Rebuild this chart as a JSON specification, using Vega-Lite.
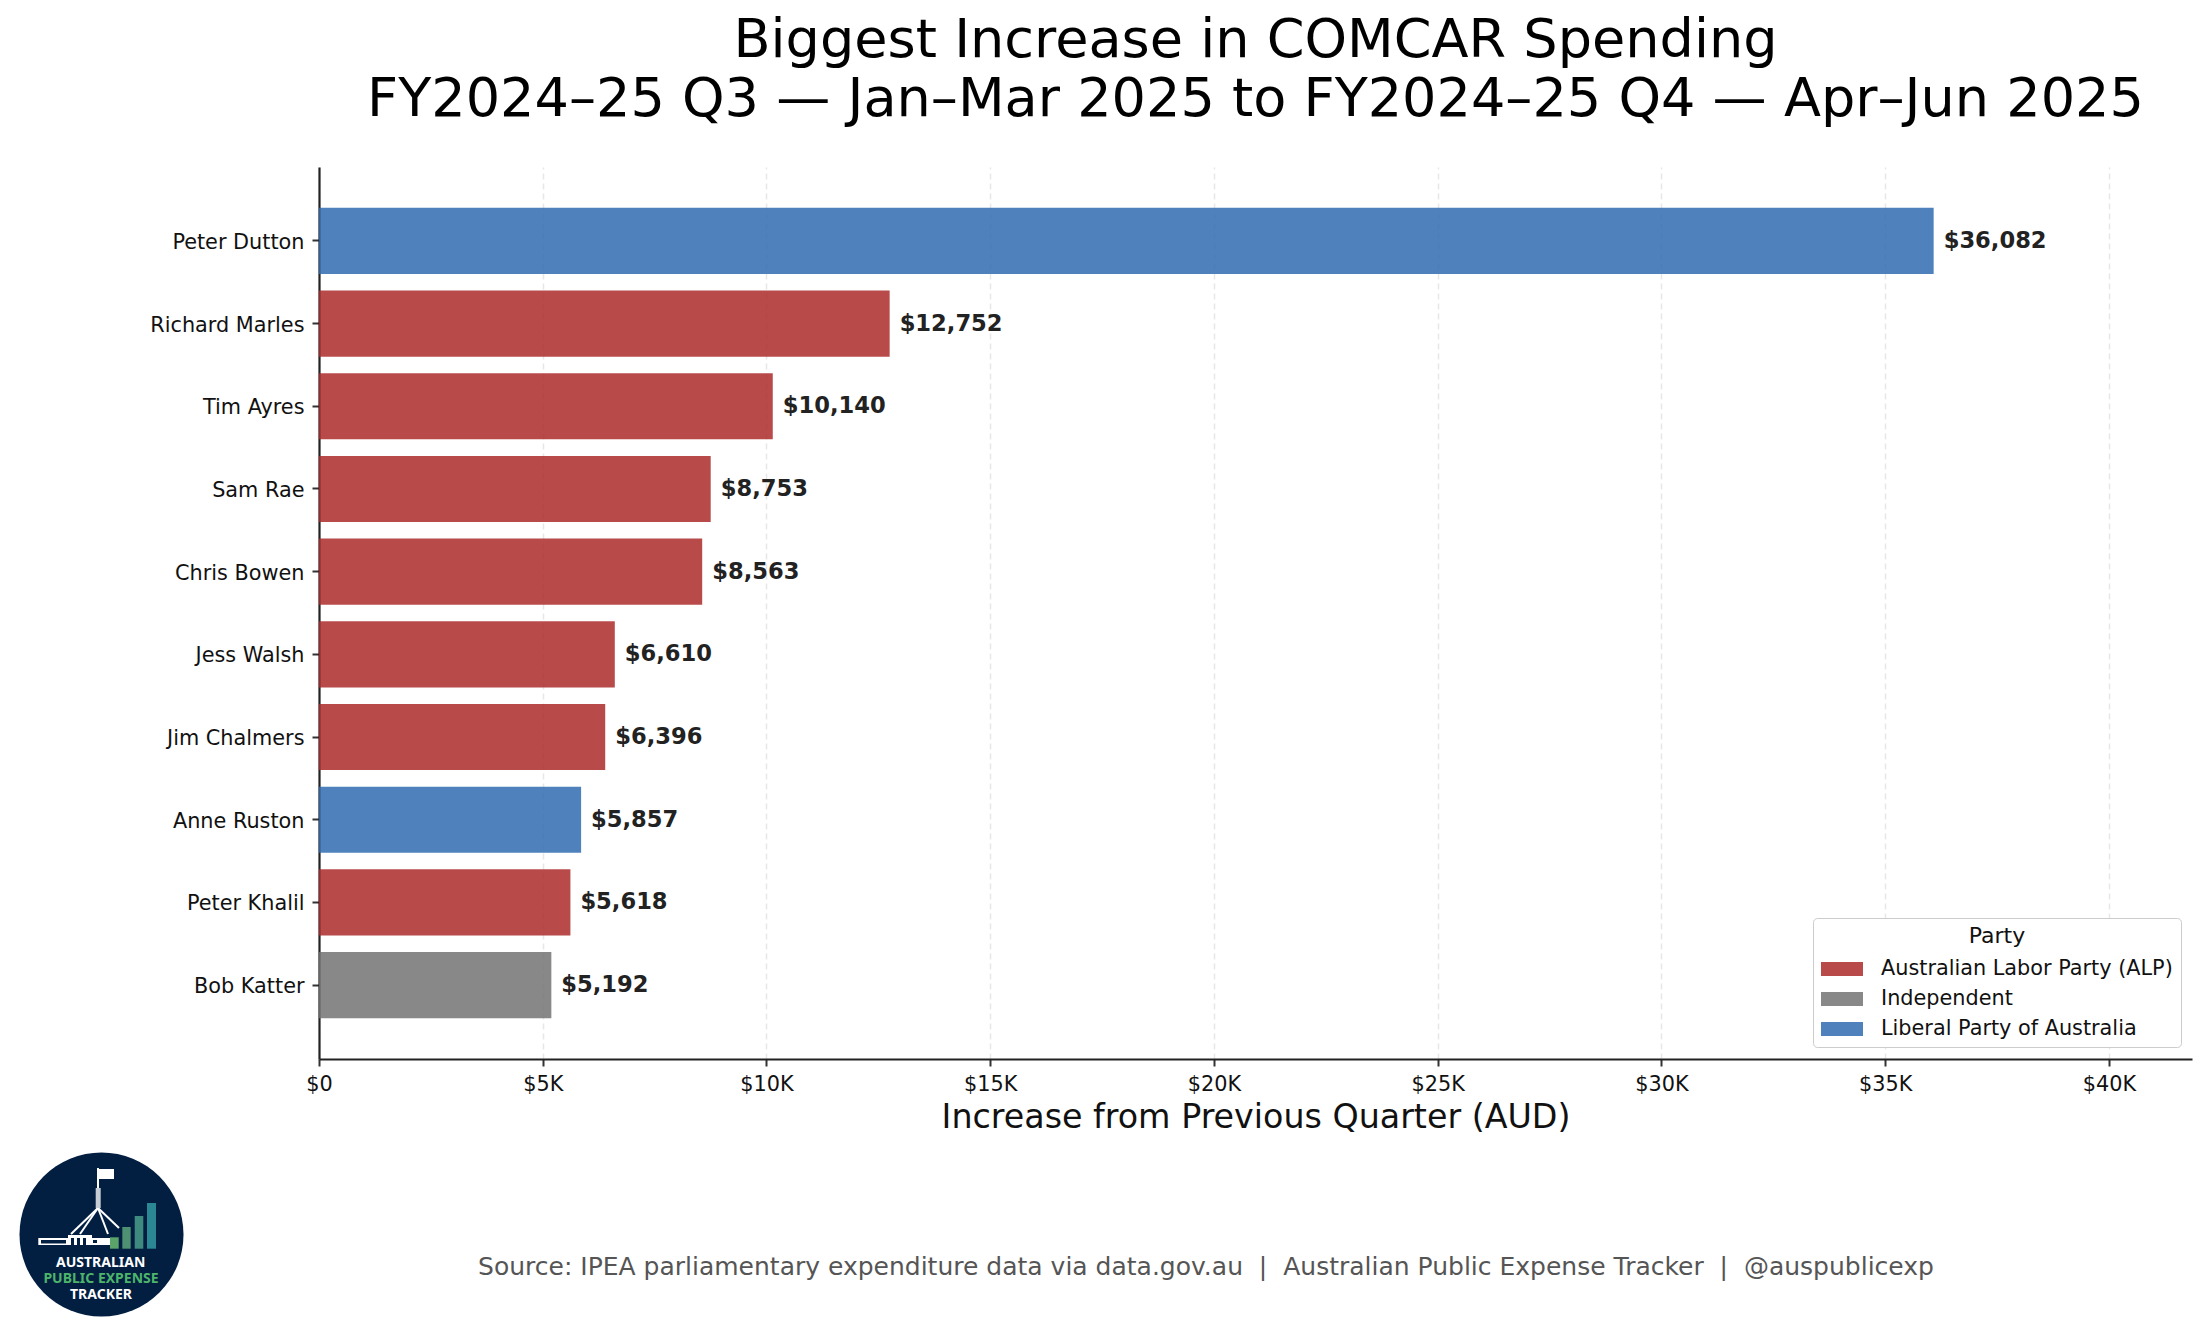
{
  "$schema": "https://vega.github.io/schema/vega-lite/v6.json",
  "autosize": {"type": "none"},
  "padding": {"left": 319, "top": 167, "right": 13, "bottom": 278},
  "width": 1873,
  "height": 892,
  "background": "white",
  "title": {
    "text": ["Biggest Increase in COMCAR Spending", "FY2024–25 Q3 — Jan–Mar 2025 to FY2024–25 Q4 — Apr–Jun 2025"],
    "font": "DejaVu Sans",
    "fontSize": 54.1,
    "fontWeight": "normal",
    "color": "black",
    "anchor": "middle",
    "lineHeight": 59,
    "offset": 40
  },
  "datasets": {
    "spend": [
      {"member": "Peter Dutton", "increase": 36082, "party": "Liberal Party of Australia"},
      {"member": "Richard Marles", "increase": 12752, "party": "Australian Labor Party (ALP)"},
      {"member": "Tim Ayres", "increase": 10140, "party": "Australian Labor Party (ALP)"},
      {"member": "Sam Rae", "increase": 8753, "party": "Australian Labor Party (ALP)"},
      {"member": "Chris Bowen", "increase": 8563, "party": "Australian Labor Party (ALP)"},
      {"member": "Jess Walsh", "increase": 6610, "party": "Australian Labor Party (ALP)"},
      {"member": "Jim Chalmers", "increase": 6396, "party": "Australian Labor Party (ALP)"},
      {"member": "Anne Ruston", "increase": 5857, "party": "Liberal Party of Australia"},
      {"member": "Peter Khalil", "increase": 5618, "party": "Australian Labor Party (ALP)"},
      {"member": "Bob Katter", "increase": 5192, "party": "Independent"}
    ],
    "logo_disc": [{"x": 101.5, "y": 1234.5}],
    "logo_rects": [
      {"part": "white", "x": 38.3, "x2": 110, "y": 1238, "y2": 1245},
      {"part": "white", "x": 68, "x2": 92, "y": 1235, "y2": 1238},
      {"part": "navy", "x": 41, "x2": 66, "y": 1240, "y2": 1243.5},
      {"part": "navy", "x": 71, "x2": 74, "y": 1238, "y2": 1245},
      {"part": "navy", "x": 77, "x2": 80, "y": 1238, "y2": 1245},
      {"part": "navy", "x": 83, "x2": 86, "y": 1238, "y2": 1245},
      {"part": "navy", "x": 93, "x2": 97, "y": 1240, "y2": 1243},
      {"part": "mast", "x": 95.7, "x2": 100.7, "y": 1188, "y2": 1208},
      {"part": "white", "x": 98, "x2": 114, "y": 1169, "y2": 1179},
      {"part": "bar1", "x": 110, "x2": 118.7, "y": 1237.3, "y2": 1248.7},
      {"part": "bar2", "x": 122.3, "x2": 130.7, "y": 1227, "y2": 1248.7},
      {"part": "bar3", "x": 134.7, "x2": 143.3, "y": 1216, "y2": 1248.7},
      {"part": "bar4", "x": 147, "x2": 156, "y": 1203, "y2": 1248.7}
    ],
    "logo_lines": [
      {"x": 98, "y": 1168, "x2": 98, "y2": 1190},
      {"x": 98, "y": 1208, "x2": 71, "y2": 1234},
      {"x": 98, "y": 1208, "x2": 80, "y2": 1234},
      {"x": 98, "y": 1208, "x2": 108, "y2": 1234},
      {"x": 98, "y": 1208, "x2": 119, "y2": 1228}
    ],
    "logo_text": [
      {"label": "AUSTRALIAN", "x": 100.7, "y": 1263, "part": "white"},
      {"label": "PUBLIC EXPENSE", "x": 101, "y": 1279, "part": "green"},
      {"label": "TRACKER", "x": 101, "y": 1295, "part": "white"}
    ],
    "footer": [{"label": "Source: IPEA parliamentary expenditure data via data.gov.au \u00a0|\u00a0 Australian Public Expense Tracker \u00a0|\u00a0 @auspublicexp", "x": 1206, "y": 1267}]
  },
  "layer": [
    {
      "data": {"name": "spend"},
      "encoding": {
        "y": {
          "field": "member",
          "type": "nominal",
          "sort": null,
          "title": null,
          "scale": {"paddingInner": 0.2, "paddingOuter": 0.494},
          "axis": {
            "labelFont": "DejaVu Sans",
            "labelFontSize": 20.8,
            "labelColor": "#111",
            "labelPadding": 8,
            "labelOffset": 2,
            "tickSize": 7,
            "tickWidth": 2,
            "tickColor": "#333",
            "domainColor": "#222",
            "domainWidth": 2.2,
            "grid": false
          }
        },
        "x": {
          "field": "increase",
          "type": "quantitative",
          "title": "Increase from Previous Quarter (AUD)",
          "scale": {"domain": [0, 41855], "nice": false},
          "axis": {
            "values": [0, 5000, 10000, 15000, 20000, 25000, 30000, 35000, 40000],
            "labelExpr": "datum.value === 0 ? '$0' : '$' + datum.value / 1000 + 'K'",
            "labelFont": "DejaVu Sans",
            "labelFontSize": 20.8,
            "labelColor": "#111",
            "labelPadding": 8,
            "labelFlush": false,
            "tickSize": 7,
            "tickWidth": 2,
            "tickColor": "#333",
            "domainColor": "#222",
            "domainWidth": 2.2,
            "grid": true,
            "gridColor": "#888",
            "gridOpacity": 0.2,
            "gridDash": [6, 4],
            "gridWidth": 1.5,
            "titleFont": "DejaVu Sans",
            "titleFontSize": 33.3,
            "titleFontWeight": "normal",
            "titleColor": "#111",
            "titlePadding": 8
          }
        }
      },
      "layer": [
        {
          "mark": {"type": "bar", "opacity": 0.85},
          "encoding": {
            "color": {
              "field": "party",
              "type": "nominal",
              "scale": {
                "domain": ["Australian Labor Party (ALP)", "Independent", "Liberal Party of Australia"],
                "range": ["#ac2a2a", "#737373", "#306bb2"]
              },
              "legend": {
                "title": "Party",
                "orient": "none",
                "legendX": 1494,
                "legendY": 751,
                "strokeColor": "#ccc",
                "cornerRadius": 4,
                "padding": 8,
                "fillColor": "white",
                "titleAnchor": "middle",
                "titleFont": "DejaVu Sans",
                "titleFontSize": 22,
                "titleFontWeight": "normal",
                "titleColor": "#111",
                "titlePadding": 7,
                "labelFont": "DejaVu Sans",
                "labelFontSize": 20.8,
                "labelColor": "#111",
                "labelLimit": 400,
                "symbolType": "M-1,-0.5H2V0.5H-1Z",
                "symbolSize": 784,
                "symbolStrokeWidth": 0,
                "rowPadding": 6,
                "labelOffset": 32
              }
            }
          }
        },
        {
          "mark": {"type": "text", "align": "left", "baseline": "middle", "dx": 10, "font": "DejaVu Sans", "fontSize": 22.6, "fontWeight": "bold", "color": "#222"},
          "encoding": {"text": {"field": "increase", "format": "$,d"}}
        }
      ]
    },
    {
      "encoding": {
        "x": {"field": "x", "type": "quantitative", "axis": null, "scale": {"domain": [319, 2192], "nice": false, "zero": false}},
        "y": {"field": "y", "type": "quantitative", "axis": null, "scale": {"domain": [1059, 167], "nice": false, "zero": false}},
        "color": {
          "field": "part",
          "type": "nominal",
          "legend": null,
          "scale": {
            "domain": ["white", "navy", "mast", "bar1", "bar2", "bar3", "bar4", "green"],
            "range": ["#ffffff", "#021f42", "#c8ccd4", "#5aa469", "#4d9072", "#3f8a7e", "#2a8793", "#4db56a"]
          }
        }
      },
      "layer": [
        {
          "data": {"name": "logo_disc"},
          "mark": {"type": "point", "filled": true, "size": 26900, "opacity": 1},
          "encoding": {"color": {"value": "#021f42"}}
        },
        {
          "data": {"name": "logo_lines"},
          "mark": {"type": "rule", "strokeWidth": 2},
          "encoding": {"x2": {"field": "x2"}, "y2": {"field": "y2"}, "color": {"value": "#ffffff"}}
        },
        {
          "data": {"name": "logo_rects"},
          "mark": {"type": "rect"},
          "encoding": {"x2": {"field": "x2"}, "y2": {"field": "y2"}}
        },
        {
          "data": {"name": "logo_text"},
          "mark": {"type": "text", "align": "center", "baseline": "middle", "font": "Noto Sans", "fontSize": 14, "fontWeight": "bold"},
          "encoding": {"text": {"field": "label"}}
        },
        {
          "data": {"name": "footer"},
          "mark": {"type": "text", "align": "center", "baseline": "middle", "font": "DejaVu Sans", "fontSize": 25},
          "encoding": {"text": {"field": "label"}, "color": {"value": "#555555"}}
        }
      ]
    }
  ],
  "resolve": {"scale": {"x": "independent", "y": "independent", "color": "independent"}},
  "config": {"view": {"stroke": null}}
}
